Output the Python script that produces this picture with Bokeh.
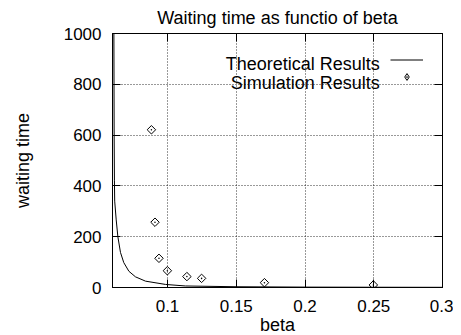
import numpy as np
from bokeh.plotting import figure
from bokeh.models import LinearAxis, FixedTicker, Legend, LegendItem, Label, Range1d
from bokeh.embed import file_html
from bokeh.resources import INLINE

# ---- data ----
title_text = "Waiting time as functio of beta"
x_label = "beta"
y_label = "waiting time"
series_names = ["Theoretical Results", "Simulation Results"]

theory_beta = [0.0610, 0.0612, 0.0614, 0.0616, 0.0627, 0.0639, 0.0658, 0.0682,
               0.0719, 0.0767, 0.0840, 0.0986, 0.113, 0.15, 0.2, 0.25, 0.3]
theory_wait = [1000, 600, 420, 340, 266, 200, 138, 98,
               64, 42, 25, 12, 6, 3, 1.5, 1.0, 0.7]

sim_beta = [0.0883, 0.0909, 0.0938, 0.0999, 0.1141, 0.1248, 0.1705, 0.2497]
sim_wait = [621, 257, 115, 66, 43, 36, 19, 10]

x_ticks = [0.1, 0.15, 0.2, 0.25, 0.3]
x_tick_labels = ["0.1", "0.15", "0.2", "0.25", "0.3"]
y_ticks = [0, 200, 400, 600, 800, 1000]
y_tick_labels = ["0", "200", "400", "600", "800", "1000"]
x_grid = [0.1, 0.15, 0.2, 0.25]
y_grid = [200, 400, 600, 800]
x_lim = (0.06, 0.3)
y_lim = (0, 1000)

FONT = "Liberation Sans"

p = figure(frame_width=330, frame_height=254,
           x_range=Range1d(*x_lim), y_range=Range1d(*y_lim),
           output_backend="svg", toolbar_location=None,
           min_border_left=112, min_border_right=11,
           min_border_top=33, min_border_bottom=0,
           title=title_text)

p.title.align = "center"
p.title.text_font = FONT
p.title.text_font_size = "18px"
p.title.text_font_style = "normal"
p.title.text_color = "black"
p.title.standoff = 11

p.outline_line_color = "black"
p.outline_line_width = 1
p.background_fill_color = "white"
p.border_fill_color = "white"

def style_axis(ax, ticks, labels, show_labels=True):
    ax.ticker = FixedTicker(ticks=ticks)
    ax.major_label_overrides = {t: (l if show_labels else "") for t, l in zip(ticks, labels)}
    ax.major_tick_in = 8
    ax.major_tick_out = 0
    ax.minor_tick_in = 0
    ax.minor_tick_out = 0
    ax.axis_line_color = "black"
    ax.major_tick_line_color = "black"
    ax.major_label_text_font = FONT
    ax.major_label_text_font_size = "17px"
    ax.major_label_text_color = "black"
    ax.axis_label_text_color = "black"

xa = p.xaxis[0]
style_axis(xa, x_ticks, x_tick_labels)
xa.major_label_standoff = 12
xa.axis_label = x_label
xa.axis_label_text_font = FONT
xa.axis_label_text_font_size = "18px"
xa.axis_label_text_font_style = "normal"
xa.axis_label_standoff = 0

ya = p.yaxis[0]
style_axis(ya, y_ticks, y_tick_labels)
ya.major_label_standoff = 11
ya.axis_label = y_label
ya.axis_label_text_font = FONT
ya.axis_label_text_font_size = "18px"
ya.axis_label_text_font_style = "normal"
ya.axis_label_standoff = 28

top_ax = LinearAxis()
style_axis(top_ax, x_ticks, x_tick_labels, show_labels=False)
top_ax.major_label_standoff = 0
p.add_layout(top_ax, "above")

right_ax = LinearAxis()
style_axis(right_ax, y_ticks, y_tick_labels, show_labels=False)
right_ax.major_label_standoff = 0
p.add_layout(right_ax, "right")

p.xgrid.ticker = FixedTicker(ticks=x_grid)
p.ygrid.ticker = FixedTicker(ticks=y_grid)
for g in (p.xgrid, p.ygrid):
    g.grid_line_color = "black"
    g.grid_line_dash = "1 2"
    g.grid_line_width = 1
    g.grid_line_alpha = 0.8

line_r = p.line(theory_beta, theory_wait, line_color="black", line_width=1)
sim_r = p.scatter(sim_beta, sim_wait, marker="square_dot", angle=np.pi / 4,
                  size=6, line_color="black", fill_color=None, line_width=1)
# hidden twin of the simulation series, used only for the legend key (diamond shape)
sim_key = p.scatter(sim_beta, sim_wait, marker="diamond_dot", size=6,
                    line_color="black", fill_color=None, line_width=1,
                    visible=False)

legend = Legend(items=[LegendItem(label=" ", renderers=[line_r]),
                       LegendItem(label=" ", renderers=[sim_key])],
                location=(278, 202), glyph_width=33, glyph_height=17,
                label_height=17, label_width=0, label_standoff=0,
                padding=0, margin=0, spacing=0,
                background_fill_alpha=0, border_line_alpha=0,
                inactive_fill_alpha=0,
                label_text_font_size="8px")
p.add_layout(legend)

for name, yv in zip(series_names, [878.7, 806.3]):
    p.add_layout(Label(x=0.2544, y=yv, text=name, text_align="right",
                       text_baseline="alphabetic", text_font=FONT,
                       text_font_size="18px", text_color="black"))

open("out.html", "w").write(file_html(p, INLINE))
